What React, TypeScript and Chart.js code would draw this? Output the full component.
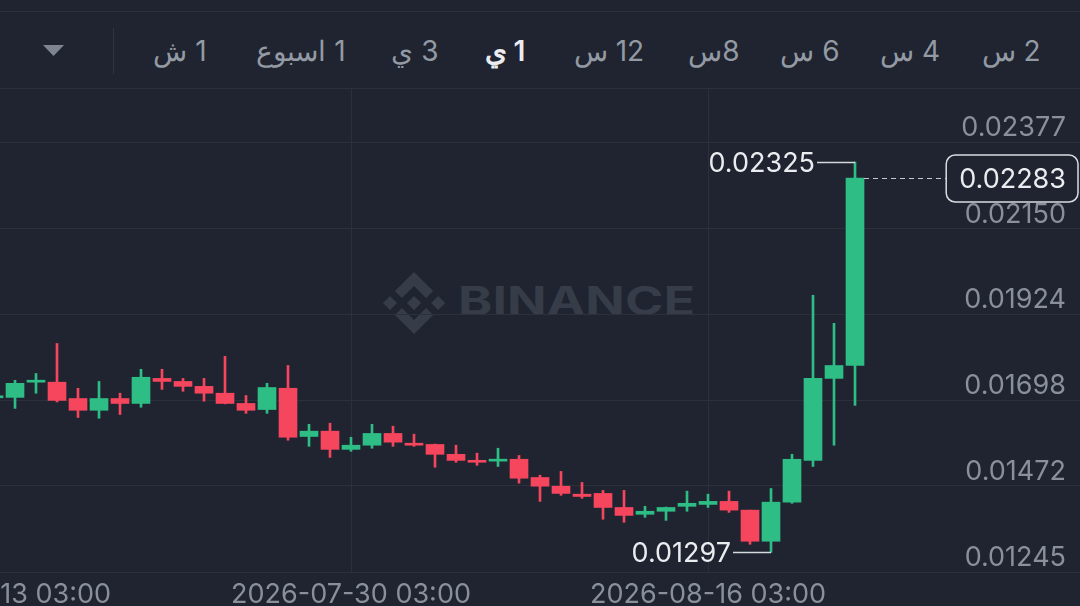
import React, { useEffect, useRef } from "react";
import { Chart, registerables } from "chart.js";

Chart.register(...registerables);

// ---------- DATA ----------
const dates = [
  "2026-07-13", "2026-07-14", "2026-07-15", "2026-07-16", "2026-07-17", "2026-07-18", "2026-07-19",
  "2026-07-20", "2026-07-21", "2026-07-22", "2026-07-23", "2026-07-24", "2026-07-25", "2026-07-26",
  "2026-07-27", "2026-07-28", "2026-07-29", "2026-07-30", "2026-07-31", "2026-08-01", "2026-08-02",
  "2026-08-03", "2026-08-04", "2026-08-05", "2026-08-06", "2026-08-07", "2026-08-08", "2026-08-09",
  "2026-08-10", "2026-08-11", "2026-08-12", "2026-08-13", "2026-08-14", "2026-08-15", "2026-08-16",
  "2026-08-17", "2026-08-18", "2026-08-19", "2026-08-20", "2026-08-21", "2026-08-22", "2026-08-23",
];
const opens = [
  0.01704, 0.01705, 0.01745, 0.01745, 0.01702, 0.01671, 0.01702, 0.01689, 0.01755, 0.01747, 0.01734,
  0.01716, 0.01689, 0.01673, 0.01729, 0.01602, 0.01616, 0.01568, 0.01579, 0.0161, 0.01584, 0.01581,
  0.01555, 0.01539, 0.01537, 0.01542, 0.01494, 0.01471, 0.0145, 0.01452, 0.01415, 0.01397, 0.01405,
  0.01418, 0.01423, 0.01431, 0.01408, 0.01326, 0.01429, 0.01539, 0.01755, 0.01789,
];
const highs = [
  0.01712, 0.0175, 0.01768, 0.01847, 0.01729, 0.01747, 0.01716, 0.01779, 0.01779, 0.01755, 0.01755,
  0.01813, 0.0171, 0.01742, 0.01789, 0.01634, 0.01637, 0.016, 0.01634, 0.01629, 0.01608, 0.01582,
  0.01579, 0.01558, 0.01571, 0.01552, 0.015, 0.0151, 0.01481, 0.0146, 0.0146, 0.01418, 0.01416,
  0.01458, 0.0145, 0.01458, 0.01408, 0.01465, 0.01555, 0.01974, 0.019, 0.02325,
];
const lows = [
  0.01699, 0.01676, 0.01716, 0.01693, 0.01652, 0.0165, 0.0166, 0.01679, 0.01726, 0.01721, 0.01695,
  0.01688, 0.01663, 0.01663, 0.01592, 0.01576, 0.01547, 0.01563, 0.01571, 0.01576, 0.01576, 0.01521,
  0.01534, 0.01526, 0.01523, 0.01479, 0.01431, 0.01447, 0.01439, 0.01384, 0.01376, 0.01389, 0.01381,
  0.01405, 0.01415, 0.01402, 0.01318, 0.01297, 0.01426, 0.01523, 0.01579, 0.01684,
];
const closes = [
  0.01706, 0.01742, 0.01747, 0.01697, 0.01671, 0.01702, 0.01689, 0.01758, 0.01747, 0.01734, 0.01716,
  0.01689, 0.01671, 0.01731, 0.016, 0.01616, 0.01568, 0.01579, 0.0161, 0.01587, 0.01579, 0.01555,
  0.01539, 0.01534, 0.01542, 0.01492, 0.01471, 0.01452, 0.01444, 0.01415, 0.01394, 0.01405, 0.01415,
  0.01426, 0.01431, 0.01408, 0.01326, 0.01429, 0.01542, 0.01755, 0.01789, 0.02283,
];
const xTickIndex = [0, 17, 34];
const xTickLabels = ["2026-07-13 03:00", "2026-07-30 03:00", "2026-08-16 03:00"];
const yTickValues = [0.01245, 0.01472, 0.01698, 0.01924, 0.0215, 0.02377];
const intervals = ["2 س", "4 س", "6 س", "8س", "12 س", "1 ي", "3 ي", "1 اسبوع", "1 ش"];
const intervalCenters = [1011, 910, 810, 714, 609, 505, 415, 301, 180];
const activeInterval = "1 ي";

// ---------- STYLE ----------
const BG = "#1f2430";
const GRID = "#2b303b";
const AXIS_TEXT = "#8a909a";
const GREEN = "#2ebd85";
const RED = "#f6465d";
const WHITE = "#eaecef";
const FONT = "Inter, 'Noto Sans', sans-serif";
const LABEL_SIZE = 27;

const zeroPadding = (s: any) => {
  s.paddingTop = 0;
  s.paddingBottom = 0;
  s.paddingLeft = 0;
  s.paddingRight = 0;
};

const overlayPlugin = {
  id: "overlay",
  afterDraw(chart: any) {
    const ctx = chart.ctx;
    const xs = chart.scales.x;
    const ys = chart.scales.y;
    const area = chart.chartArea;
    ctx.save();
    ctx.font = `${LABEL_SIZE}px ${FONT}`;
    ctx.textBaseline = "middle";

    // highest high
    const maxH = Math.max(...highs);
    const hi = highs.indexOf(maxH);
    const hx = xs.getPixelForValue(hi);
    const hy = Math.round(ys.getPixelForValue(maxH)) + 0.5;
    ctx.strokeStyle = "#d5d8dd";
    ctx.lineWidth = 1.5;
    ctx.beginPath();
    ctx.moveTo(hx, hy);
    ctx.lineTo(hx - 38, hy);
    ctx.stroke();
    ctx.fillStyle = WHITE;
    ctx.textAlign = "right";
    ctx.fillText(maxH.toFixed(5), hx - 40, hy + 1);

    // lowest low
    const minL = Math.min(...lows);
    const lo = lows.indexOf(minL);
    const lx = xs.getPixelForValue(lo);
    const ly = Math.round(ys.getPixelForValue(minL)) + 0.5;
    ctx.beginPath();
    ctx.moveTo(lx, ly);
    ctx.lineTo(lx - 38, ly);
    ctx.stroke();
    ctx.fillText(minL.toFixed(5), lx - 40, ly + 1);

    // current price
    const last = closes.length - 1;
    const price = closes[last];
    const py = Math.round(ys.getPixelForValue(price)) + 0.5;
    const textRight = area.right - 14;
    const label = price.toFixed(5);
    const tw = ctx.measureText(label).width;
    const boxL = textRight - tw - 13;
    const boxR = area.right - 2;
    const cx = xs.getPixelForValue(last) + 9;
    ctx.setLineDash([5, 4]);
    ctx.lineWidth = 1;
    ctx.strokeStyle = "#c4c8ce";
    ctx.beginPath();
    ctx.moveTo(cx, py);
    ctx.lineTo(boxL, py);
    ctx.stroke();
    ctx.setLineDash([]);
    ctx.fillStyle = BG;
    ctx.strokeStyle = "#d9dce1";
    ctx.lineWidth = 1.5;
    ctx.beginPath();
    (ctx as any).roundRect(boxL, py - 23.5, boxR - boxL, 47, 9);
    ctx.fill();
    ctx.stroke();
    ctx.fillStyle = WHITE;
    ctx.textAlign = "right";
    ctx.fillText(label, textRight, py + 1);
    ctx.restore();
  },
};

function CandleChart() {
  const ref = useRef<HTMLCanvasElement | null>(null);
  useEffect(() => {
    if (!ref.current) return;
    const colorOf = (i: number) => (closes[i] >= opens[i] ? GREEN : RED);
    const chart = new Chart(ref.current, {
      type: "bar",
      data: {
        datasets: [
          {
            label: "body",
            data: dates.map((_, i) => ({ x: i, y: [opens[i], closes[i]] })) as any,
            backgroundColor: (c: any) => colorOf(c.dataIndex),
            barThickness: 18,
            minBarLength: 2,
            grouped: false,
            borderWidth: 0,
          } as any,
          {
            label: "wick",
            data: dates.map((_, i) => ({ x: i, y: [lows[i], highs[i]] })) as any,
            backgroundColor: (c: any) => colorOf(c.dataIndex),
            barThickness: 2,
            grouped: false,
            borderWidth: 0,
          } as any,
        ],
      },
      options: {
        animation: false,
        responsive: false,
        layout: { padding: 0, autoPadding: false },
        plugins: { legend: { display: false }, tooltip: { enabled: false } },
        scales: {
          x: {
            type: "linear",
            min: -6.381,
            max: 51.714,
            offset: false,
            grid: {
              color: GRID,
              lineWidth: 1,
              drawTicks: false,
              offset: false,
            },
            border: { display: false },
            afterBuildTicks: (s: any) => {
              s.ticks = xTickIndex.map((v) => ({ value: v }));
            },
            afterFit: (s: any) => {
              s.height = 34;
              zeroPadding(s);
            },
            ticks: {
              autoSkip: false,
              maxRotation: 0,
              padding: 7,
              color: AXIS_TEXT,
              font: { family: FONT, size: LABEL_SIZE },
              callback: (v: any) => {
                const k = xTickIndex.indexOf(Number(v));
                return k >= 0 ? xTickLabels[k] : "";
              },
            },
          },
          y: {
            type: "linear",
            position: "right",
            min: 0.01245,
            max: 0.0252,
            grid: { color: GRID, lineWidth: 1, drawTicks: false },
            border: { display: false },
            afterBuildTicks: (s: any) => {
              s.ticks = yTickValues.map((v) => ({ value: v }));
            },
            afterFit: (s: any) => {
              s.width = 0;
              zeroPadding(s);
            },
            ticks: {
              mirror: true,
              padding: -14,
              labelOffset: -14,
              color: AXIS_TEXT,
              font: { family: FONT, size: LABEL_SIZE },
              callback: (v: any) => Number(v).toFixed(5),
            },
          },
        },
      },
      plugins: [overlayPlugin],
    });
    return () => chart.destroy();
  }, []);
  return <canvas ref={ref} width={1220} height={518} style={{ display: "block" }} />;
}

const logoPath1 =
  "M38.73 53.2l24.59-24.58 24.6 24.6 14.3-14.31L63.32 0 24.42 38.9l14.31 14.3zM0 63.31l14.3-14.31 14.31 14.31-14.31 14.3zM38.73 73.41l24.59 24.59 24.6-24.6 14.31 14.29-38.9 38.91-38.91-38.88-.02-.02 14.33-14.29zM98.28 63.31l14.3-14.31 14.31 14.3-14.31 14.32z";
const logoPath2 =
  "M77.83 63.3L63.32 48.78 52.59 59.51l-1.24 1.23-2.54 2.54-.02.02.02.03 14.51 14.5 14.51-14.52.01-.01-.01-.01z";

export default function App() {
  return (
    <div
      style={{
        position: "absolute",
        left: 0,
        top: 0,
        width: 1080,
        height: 606,
        overflow: "hidden",
        background: BG,
        fontFamily: FONT,
      }}
    >
      {/* top lines */}
      <div style={{ position: "absolute", left: 0, top: 11, width: 1080, height: 1, background: GRID }} />
      <div style={{ position: "absolute", left: 0, top: 88, width: 1080, height: 1, background: GRID }} />
      {/* dropdown triangle */}
      <svg style={{ position: "absolute", left: 43, top: 45 }} width={21} height={12}>
        <polygon points="0,0 21,0 10.5,11" fill="#7f858f" />
      </svg>
      {/* separator */}
      <div style={{ position: "absolute", left: 113, top: 28, width: 1, height: 46, background: "#2f3540" }} />
      {intervals.map((t, i) => (
        <div
          key={t}
          dir="rtl"
          style={{
            position: "absolute",
            left: intervalCenters[i] - 70,
            width: 140,
            top: 33,
            height: 36,
            lineHeight: "36px",
            textAlign: "center",
            fontSize: 28,
            color: t === activeInterval ? WHITE : "#939aa3",
            fontWeight: t === activeInterval ? 600 : 400,
            whiteSpace: "nowrap",
          }}
        >
          {t}
        </div>
      ))}
      {/* watermark */}
      <svg style={{ position: "absolute", left: 383, top: 272 }} width={320} height={64}>
        <g transform="scale(0.49)" fill="#363c48">
          <path d={logoPath1} />
          <path d={logoPath2} />
        </g>
        <text
          x={75}
          y={43}
          fontSize={39}
          fontWeight={700}
          fill="#363c48"
          fontFamily={FONT}
          textLength={237}
          lengthAdjust="spacingAndGlyphs"
        >
          BINANCE
        </text>
      </svg>
      <div style={{ position: "absolute", left: -140, top: 88, width: 1220, height: 518 }}>
        <CandleChart />
      </div>
    </div>
  );
}
